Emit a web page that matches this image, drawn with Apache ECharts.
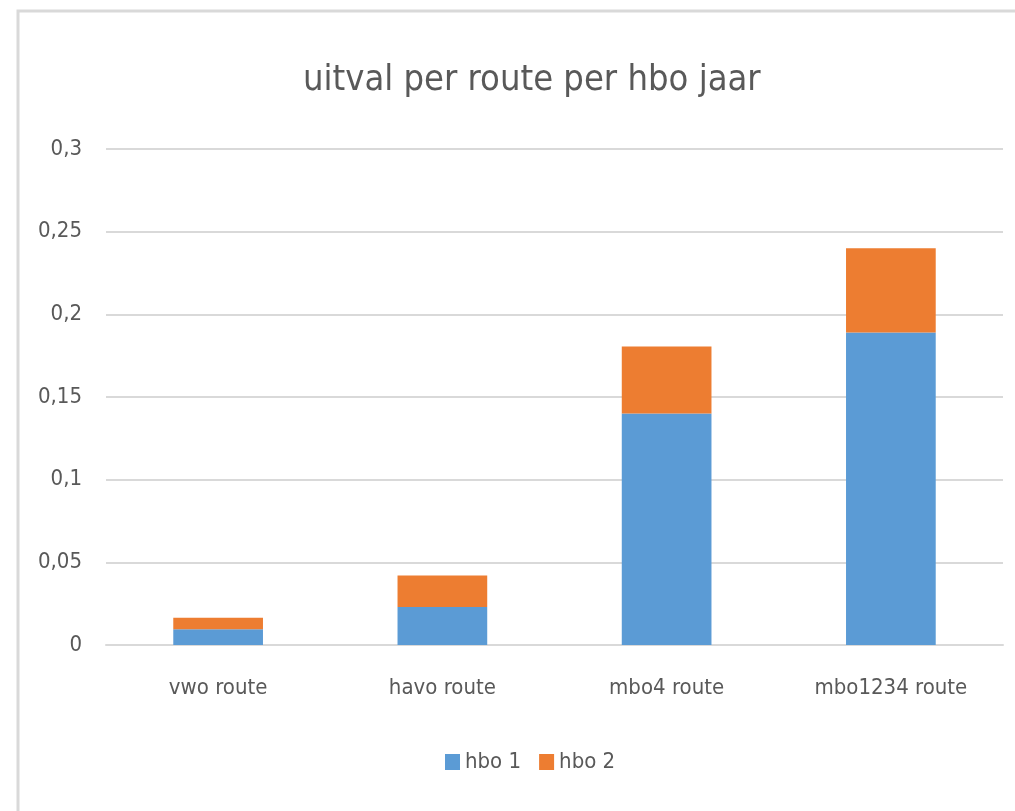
<!DOCTYPE html>
<html>
<head>
<meta charset="utf-8">
<script src="https://cdn.jsdelivr.net/npm/echarts@6/dist/echarts.min.js"></script>
<style>
  html, body { margin: 0; padding: 0; background: #fff; }
  #chart { width: 1015px; height: 811px; }
</style>
</head>
<body>
<div id="chart"></div>
<script>
// categories and values
const categories = ['vwo route', 'havo route', 'mbo4 route', 'mbo1234 route']
const hbo1 = [0.0095, 0.023, 0.140, 0.189]
const hbo2 = [0.007, 0.019, 0.0405, 0.051]
const yTicks = [0, 0.05, 0.1, 0.15, 0.2, 0.25, 0.3]

const font = '"Liberation Sans Narrow", "DejaVu Sans Condensed", "Liberation Sans", sans-serif'
const chart = echarts.init(document.getElementById('chart'))

const option = {
  animation: false,
  backgroundColor: '#fff',
  textStyle: { fontFamily: font },
  graphic: [
    {
      type: 'rect',
      shape: { x: 18, y: 11, width: 1010, height: 815 },
      style: { fill: 'none', stroke: '#d9d9d9', lineWidth: 3 },
      silent: true
    }
  ],
  title: {
    text: 'uitval per route per hbo jaar',
    left: 298,
    top: 58,
    textStyle: { fontFamily: font, fontSize: 36, fontWeight: 'normal', color: '#595959' }
  },
  legend: {
    top: 746,
    left: 440,
    itemWidth: 15,
    itemHeight: 16,
    itemGap: 18,
    icon: 'rect',
    textStyle: { fontFamily: font, fontSize: 22, color: '#595959' },
    data: ['hbo 1', 'hbo 2']
  },
  grid: {
    left: 106,
    right: 12,
    top: 149,
    bottom: 166
  },
  xAxis: {
    type: 'category',
    data: categories,
    axisTick: { show: false },
    axisLine: { lineStyle: { color: '#d9d9d9', width: 2 } },
    axisLabel: { fontFamily: font, fontSize: 22, color: '#595959', margin: 32 }
  },
  yAxis: {
    type: 'value',
    min: 0,
    max: 0.3,
    interval: 0.05,
    axisLine: { show: false },
    axisTick: { show: false },
    splitLine: { lineStyle: { color: '#d9d9d9', width: 2 } },
    axisLabel: {
      fontFamily: font,
      fontSize: 22,
      color: '#595959',
      margin: 24,
      customValues: yTicks,
      formatter: v => String(+v.toFixed(2)).replace('.', ',')
    }
  },
  series: [
    {
      name: 'hbo 1',
      type: 'bar',
      stack: 'total',
      barWidth: '40%',
      itemStyle: { color: '#5b9bd5' },
      data: hbo1
    },
    {
      name: 'hbo 2',
      type: 'bar',
      stack: 'total',
      barWidth: '40%',
      itemStyle: { color: '#ed7d31' },
      data: hbo2
    }
  ]
}
chart.setOption(option)
</script>
</body>
</html>
